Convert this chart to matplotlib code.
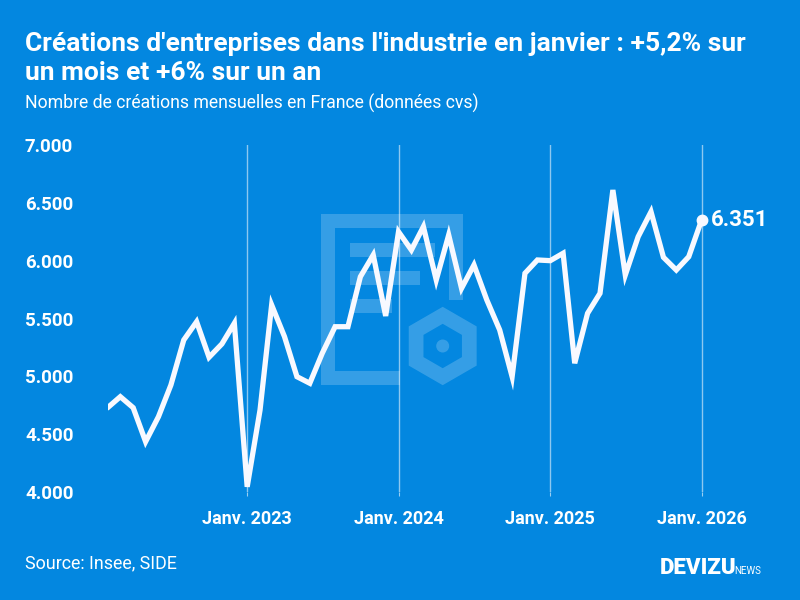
import matplotlib
matplotlib.use('Agg')
import matplotlib.pyplot as plt
from matplotlib.patches import Rectangle, RegularPolygon, Circle
import numpy as np
import pandas as pd

# Créations d'entreprises dans l'industrie (données cvs), fév. 2022 -> janv. 2026
mois = pd.date_range('2022-02-01', periods=48, freq='MS')
creations = [4737, 4824, 4729, 4435, 4651, 4925, 5314, 5472, 5165, 5280, 5459,
             4045, 4709, 5617, 5343, 4997, 4940, 5199, 5429, 5429, 5861, 6049, 5522,
             6250, 6092, 6294, 5833, 6222, 5761, 5963, 5660, 5401, 4997, 5891, 6006,
             6000, 6064, 5113, 5545, 5718, 6611, 5876, 6207, 6423, 6029, 5919, 6034,
             6351]
yticks = [4000, 4500, 5000, 5500, 6000, 6500, 7000]
ytick_labels = ['4.000', '4.500', '5.000', '5.500', '6.000', '6.500', '7.000']
xticks = pd.to_datetime(['2023-01-01', '2024-01-01', '2025-01-01', '2026-01-01'])
xtick_labels = ['Janv. 2023', 'Janv. 2024', 'Janv. 2025', 'Janv. 2026']
dernier_label = '6.351'

bg = '#0387e0'
blanc = '#f8f9ff'
plt.rcParams['font.family'] = ['Roboto', 'DejaVu Sans']

fig = plt.figure(figsize=(8, 6), dpi=100, facecolor=bg)

# fond + logo en filigrane (coordonnées pixels)
bgax = fig.add_axes([0, 0, 1, 1], zorder=0)
bgax.set_xlim(0, 800)
bgax.set_ylim(600, 0)
bgax.axis('off')
wm = dict(color='white', alpha=0.2, lw=0)
for (x0, y0, x1, y1) in [(321, 214, 463, 228), (321, 228, 335, 385), (449, 228, 463, 300),
                         (335, 371, 400, 385), (350, 243, 435, 257), (350, 271, 420, 285),
                         (350, 299, 392, 313)]:
    bgax.add_patch(Rectangle((x0, y0), x1 - x0, y1 - y0, **wm))
bgax.add_patch(RegularPolygon((442.7, 346), 6, radius=30.7, fill=False,
                              edgecolor='white', alpha=0.2, lw=10.6, joinstyle='miter'))
bgax.add_patch(Circle((442.7, 346), 6.5, **wm))

ax = fig.add_axes([108.3 / 800, 1 - 492 / 600, 661.7 / 800, 347 / 600], zorder=1)
ax.set_facecolor('none')
ax.plot(mois, creations, color=blanc, lw=3.8, solid_joinstyle='miter', zorder=3)
ax.plot(mois[-1], creations[-1], 'o', color=blanc, ms=7.5, zorder=4)
ax.annotate(dernier_label, (mois[-1], creations[-1]), xytext=(7, 0), textcoords='offset points',
            ha='left', va='center', color='white', fontsize=16, fontweight='bold')

ax.set_ylim(4000, 7000)
ax.set_xlim(mois[0] - pd.Timedelta(days=1), pd.Timestamp('2026-06-15'))
for s in ax.spines.values():
    s.set_visible(False)
ax.set_yticks(yticks)
ax.set_yticklabels(ytick_labels, fontsize=13.5, fontweight='bold', color='white')
for lab in ax.get_yticklabels():
    lab.set_ha('left')
ax.tick_params(axis='y', length=0, pad=60)
ax.set_xticks(xticks)
ax.set_xticklabels(xtick_labels, fontsize=13, fontweight='bold', color='white')
ax.tick_params(axis='x', length=3, color=(1, 1, 1, 0.6), pad=10)
ax.grid(axis='x', color='white', alpha=0.55, lw=1)

fig.text(25 / 800, 1 - 32 / 600,
         "Créations d'entreprises dans l'industrie en janvier : +5,2% sur\nun mois et +6% sur un an",
         ha='left', va='top', color='white', fontsize=19, fontweight='bold', linespacing=1.27)
fig.text(25 / 800, 1 - 103 / 600, 'Nombre de créations mensuelles en France (données cvs)',
         ha='left', va='center', color='white', fontsize=12.7)
fig.text(25 / 800, 1 - 563 / 600, 'Source: Insee, SIDE', ha='left', va='center',
         color='white', fontsize=12.9)
fig.text(660 / 800, 1 - 574 / 600, 'DEVIZU', ha='left', va='baseline', color='white',
         fontsize=16, fontweight='heavy')
fig.text(734 / 800, 1 - 574 / 600, 'NEWS', ha='left', va='baseline', color='white',
         fontsize=7)

fig.savefig('out.png', dpi=100, facecolor=bg)
